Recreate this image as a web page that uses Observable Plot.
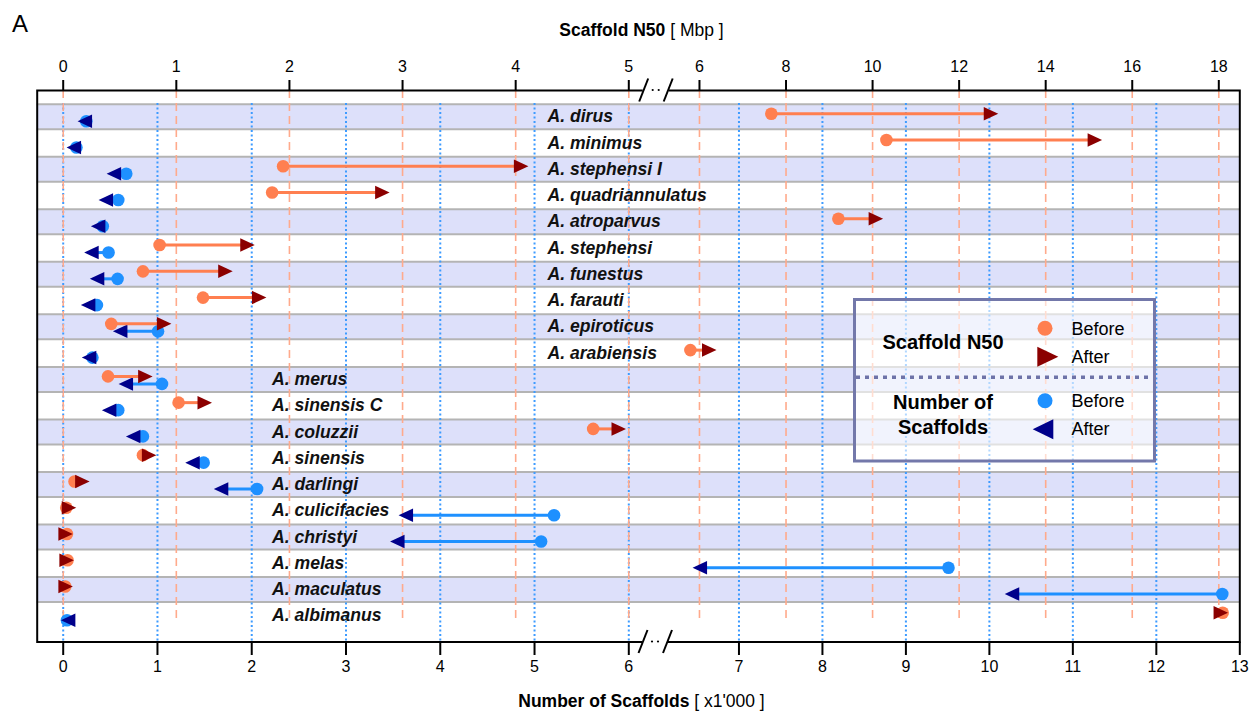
<!DOCTYPE html>
<html><head><meta charset="utf-8">
<script src="https://cdn.jsdelivr.net/npm/d3@7"></script>
<script src="https://cdn.jsdelivr.net/npm/@observablehq/plot@0.6"></script>
<style>
body{margin:0;background:#fff;}
#wrap{position:relative;width:1254px;height:711px;font-family:"Liberation Sans",Arial,sans-serif;}
#wrap > svg{position:absolute;left:0;top:0;}
</style></head><body><div id="wrap"></div>
<script>
// ---- data ----
const species = ["A. dirus","A. minimus","A. stephensi I","A. quadriannulatus","A. atroparvus",
  "A. stephensi","A. funestus","A. farauti","A. epiroticus","A. arabiensis",
  "A. merus","A. sinensis C","A. coluzzii","A. sinensis","A. darlingi",
  "A. culicifacies","A. christyi","A. melas","A. maculatus","A. albimanus"];
// Scaffold N50 [Mbp]
const n50Before = [7.66,10.32,1.944,1.847,9.21,0.852,0.705,1.236,0.425,5.79,0.396,1.02,4.685,0.705,0.10,0.027,0.033,0.038,0.018,18.09];
const n50After  = [12.68,15.08,4.027,2.80,10.02,1.608,1.413,1.711,0.871,6.17,0.705,1.23,4.89,0.738,0.148,0.03,0.0,0.009,0.0,17.99];
// Number of scaffolds [x1'000]
const scafBefore = [0.245,0.14,0.669,0.584,0.42,0.481,0.577,0.358,1.006,0.31,1.048,0.584,0.846,1.49,2.057,5.207,5.07,9.51,12.79,0.04];
const scafAfter  = [0.255,0.138,0.563,0.478,0.396,0.325,0.385,0.29,0.63,0.30,0.69,0.513,0.768,1.397,1.70,3.66,3.57,6.56,10.30,0.078];
const ticksN50 = [0,1,2,3,4,5,6,8,10,12,14,16,18];
const ticksScaf = [0,1,2,3,4,5,6,7,8,9,10,11,12,13];
const gridScaf = [0,1,2,3,4,5,6,7,8,9,10,11,12];

const rows = species.map((s,i)=>({species:s, i, n50b:n50Before[i], n50a:n50After[i], scb:scafBefore[i], sca:scafAfter[i]}));
const bandRows = species.filter((d,i)=>i%2===0);

// ---- symbols ----
const TL = 14.5, TH = 13.5;
const triRight = {draw(c){c.moveTo(2*TL/3,0);c.lineTo(-TL/3,-TH/2);c.lineTo(-TL/3,TH/2);c.closePath();}};
const triLeft  = {draw(c){c.moveTo(-2*TL/3,0);c.lineTo(TL/3,-TH/2);c.lineTo(TL/3,TH/2);c.closePath();}};

const W=1254,H=711, MT=90, MB=69.5, ML=36.7, MR=14.7;
const font = "Liberation Sans, Arial, sans-serif";
const common = {width:W,height:H,marginLeft:ML,marginRight:MR,marginTop:MT,marginBottom:MB,
  y:{type:"point",domain:species,padding:1,round:false,axis:null},
  style:{background:"transparent",fontFamily:font,fontSize:"16px",overflow:"visible",color:"black"}};
const xScaf = {type:"linear",domain:[0,6,6.0001,13],range:[62.7,628.3,655,1239.3],label:null};
const xN50  = {type:"linear",domain:[0,5,5.0001,18],range:[62.7,628.3,655.7,1218.3],label:null};

const wrap = document.getElementById("wrap");

// Layer 1: bands, blue grid, bottom axis
const L1 = Plot.plot({...common, x:xScaf, marks:[
  Plot.ruleY(bandRows,{y:d=>d,stroke:"#dde0fa",strokeWidth:25}),
  Plot.ruleY(bandRows,{y:d=>d,dy:-12.5,stroke:"#b4b4b4",strokeWidth:2}),
  Plot.ruleY(bandRows,{y:d=>d,dy:12.5,stroke:"#b4b4b4",strokeWidth:2}),
  Plot.ruleX(gridScaf,{x:d=>d,stroke:"#3d9bff",strokeWidth:2,strokeDasharray:"2,2.5",insetTop:13}),
  Plot.axisX(ticksScaf,{anchor:"bottom",tickSize:13.5,tickPadding:5,strokeWidth:2,fontSize:16,tickFormat:d=>String(d),label:null})
]});
wrap.appendChild(L1);

// Layer 2: salmon grid, top axis
const L2 = Plot.plot({...common, x:xN50, marks:[
  Plot.ruleX(ticksN50,{x:d=>d,stroke:"#ffaa8c",strokeWidth:1.6,strokeDasharray:"8,5",insetBottom:19}),
  Plot.axisX(ticksN50,{anchor:"top",tickSize:11,tickPadding:8,strokeWidth:2,fontSize:16,tickFormat:d=>String(d),label:null})
]});
wrap.appendChild(L2);

// Layer 3: labels, scaffold marks, frame
const L3 = Plot.plot({...common, x:{...xScaf,axis:null}, marks:[
  Plot.text(rows,{x:d=>d.i<10?5.137:2.215,y:"species",text:"species",textAnchor:"start",fontSize:17.6,fontWeight:"bold",fontStyle:"italic",fill:"#111"}),
  Plot.ruleY(rows,{y:"species",x1:"scb",x2:"sca",dy:4.5,stroke:"#1e90ff",strokeWidth:3}),
  Plot.dot(rows,{x:"scb",y:"species",dy:4.5,r:6.3,fill:"#1e90ff"}),
  Plot.dot(rows,{x:"sca",y:"species",dy:4.5,symbol:triLeft,r:7,fill:"#00008b"}),
  Plot.frame({stroke:"black",strokeWidth:2})
]});
wrap.appendChild(L3);

// Layer 4: N50 marks
const L4 = Plot.plot({...common, x:{...xN50,axis:null}, marks:[
  Plot.ruleY(rows,{y:"species",x1:"n50b",x2:"n50a",dy:-3,stroke:"#ff7f50",strokeWidth:3}),
  Plot.dot(rows,{x:"n50b",y:"species",dy:-3,r:6.3,fill:"#ff7f50"}),
  Plot.dot(rows,{x:"n50a",y:"species",dy:-3,symbol:triRight,r:7,fill:"#8b0000"})
]});
wrap.appendChild(L4);

function addBreak(svg, cx, cy){
  const g = d3.select(svg).append("g");
  g.append("rect").attr("x",cx-13).attr("y",cy-3).attr("width",26).attr("height",6).attr("fill","white");
  [[-16.5,-7.5],[8,17]].forEach(([a,b])=>g.append("line").attr("x1",cx+a).attr("y1",cy+11.5)
    .attr("x2",cx+b).attr("y2",cy-11.5).attr("stroke","black").attr("stroke-width",2));
  [-3,3].forEach(o=>g.append("circle").attr("cx",cx+o).attr("cy",cy).attr("r",1.1).attr("fill","black"));
}
addBreak(L3, L3.scale("x").apply(6.0001), H-MB);
addBreak(L4, L4.scale("x").apply(5.0001), MT);

// Titles & legend overlay
const ov = d3.select(wrap).append("svg").attr("width",W).attr("height",H).style("font-family",font);
ov.append("text").attr("x",12).attr("y",32.3).attr("font-size",24).text("A");
const t1 = ov.append("text").attr("x",641.5).attr("y",36).attr("text-anchor","middle").attr("font-size",17.5);
t1.append("tspan").attr("font-weight","bold").text("Scaffold N50");
t1.append("tspan").text(" [ Mbp ]");
const t2 = ov.append("text").attr("x",641.5).attr("y",706.7).attr("text-anchor","middle").attr("font-size",17.5);
t2.append("tspan").attr("font-weight","bold").text("Number of Scaffolds");
t2.append("tspan").text(" [ x1'000 ]");

const lg = ov.append("g").attr("transform","translate(853,298)");
lg.append("rect").attr("x",1.5).attr("y",1.5).attr("width",300).attr("height",161.5)
  .attr("fill","white").attr("fill-opacity",0.6).attr("stroke","#7378aa").attr("stroke-width",3);
lg.append("line").attr("x1",3).attr("x2",300).attr("y1",79.3).attr("y2",79.3)
  .attr("stroke","#6e73a8").attr("stroke-width",3.5).attr("stroke-dasharray","4,5");
[["Scaffold N50",50.7],["Number of",110.7],["Scaffolds",135.7]].forEach(([t,y])=>
  lg.append("text").attr("x",90).attr("y",y).attr("text-anchor","middle").attr("font-size",20).attr("font-weight","bold").text(t));
lg.append("circle").attr("cx",192).attr("cy",30.3).attr("r",7.5).attr("fill","#ff7f50");
lg.append("path").attr("d","M184.3,48.7L205.3,58.7L184.3,68.7Z").attr("fill","#8b0000");
lg.append("circle").attr("cx",192).attr("cy",102.7).attr("r",7.5).attr("fill","#1e90ff");
lg.append("path").attr("d","M200.3,121.3L179.7,131.3L200.3,141.3Z").attr("fill","#00008b");
[["Before",36.8],["After",65.2],["Before",109.2],["After",136.8]].forEach(([t,y])=>
  lg.append("text").attr("x",218.5).attr("y",y).attr("font-size",18).text(t));
</script></body></html>
